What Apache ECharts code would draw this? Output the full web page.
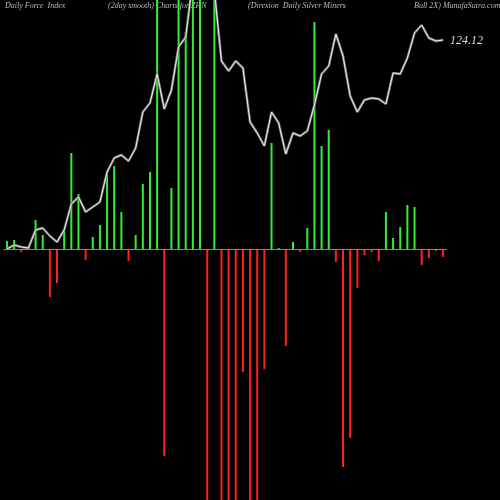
<!DOCTYPE html>
<html>
<head>
<meta charset="utf-8">
<script src="https://cdn.jsdelivr.net/npm/echarts@6/dist/echarts.min.js"></script>
<style>html,body{margin:0;padding:0;background:#000;}#c{width:500px;height:500px;}</style>
</head>
<body>
<div id="c"></div>
<script>
// force index bars (2day smooth), off-scale ones are clipped
var forceIndex = [8, 9, -3, 2, 29, 14, -48, -34, 18, 96, 55, -11, 12, 24, 77, 83, 37, -12, 14, 65,
  77, 400, -207, 61, 400, 217, 400, 400, -400, 400, -400, -400, -400, -123, -400, -400, -120, 106, 1, -97,
  7, -3, 21, 227, 103, 119, -13, -218, -189, -39, -6, -3, -12, 37, 11, 22, 44, 42, -16, -9, -2, -8];
// price line, same scale as the bars
var priceLine = [0, 4, 2, 1, 19, 21, 13, 7, 19, 45, 52, 37, 42, 47, 77, 91, 94, 88, 101, 137,
  146, 175, 140, 159, 202, 212, 269, 289, 279, 259, 188, 178, 188, 181, 127, 116, 103, 137, 126, 95,
  116, 113, 118, 144, 175, 183, 215, 193, 153, 137, 149, 151, 150, 145, 176, 175, 191, 216, 224, 211, 208, 209];
var days = forceIndex.map(function(v, i) { return 'd' + i; });

var chart = echarts.init(document.getElementById('c'));
var txt = {fill: '#bbbbbb', fontFamily: 'Liberation Serif', fontStyle: 'italic', fontSize: 8};
chart.setOption({
  backgroundColor: '#000',
  animation: false,
  graphic: [
    {type: 'text', left: 5, top: 2, style: Object.assign({text: 'Daily Force  Index'}, txt)},
    {type: 'text', left: 108, top: 2, style: Object.assign({text: '(2day smooth) Charts for ZHN'}, txt)},
    {type: 'text', left: 248, top: 2, style: Object.assign({text: '(Direxion  Daily Silver Miners'}, txt)},
    {type: 'text', left: 414, top: 2, style: Object.assign({text: 'Bull 2X) MunafaSutra.com'}, txt)},
    {type: 'text', left: 450, top: 35, style: {text: '124.12', fill: '#dddddd', fontFamily: 'Liberation Serif', fontStyle: 'italic', fontSize: 12}}
  ],
  grid: {left: 3.4, right: 53.3, top: 0, bottom: 0},
  xAxis: {
    type: 'category', data: days, boundaryGap: true,
    axisLine: {show: false}, axisTick: {show: false}, axisLabel: {show: false}
  },
  yAxis: {type: 'value', min: -251, max: 249, show: false, splitLine: {show: false}},
  series: [
    {
      type: 'bar', data: forceIndex, barWidth: 2, clip: true,
      itemStyle: {color: function(p) { return p.value >= 0 ? '#33ee33' : '#ff2020'; }},
      markLine: {
        silent: true, symbol: 'none', label: {show: false},
        lineStyle: {color: '#888', type: 'solid', width: 1},
        data: [{yAxis: 0}]
      }
    },
    {type: 'line', data: priceLine, symbol: 'none', clip: true, lineStyle: {color: '#777', width: 2.5}},
    {type: 'line', data: priceLine, symbol: 'none', clip: true, lineStyle: {color: '#eee', width: 1}}
  ]
});
</script>
</body>
</html>
